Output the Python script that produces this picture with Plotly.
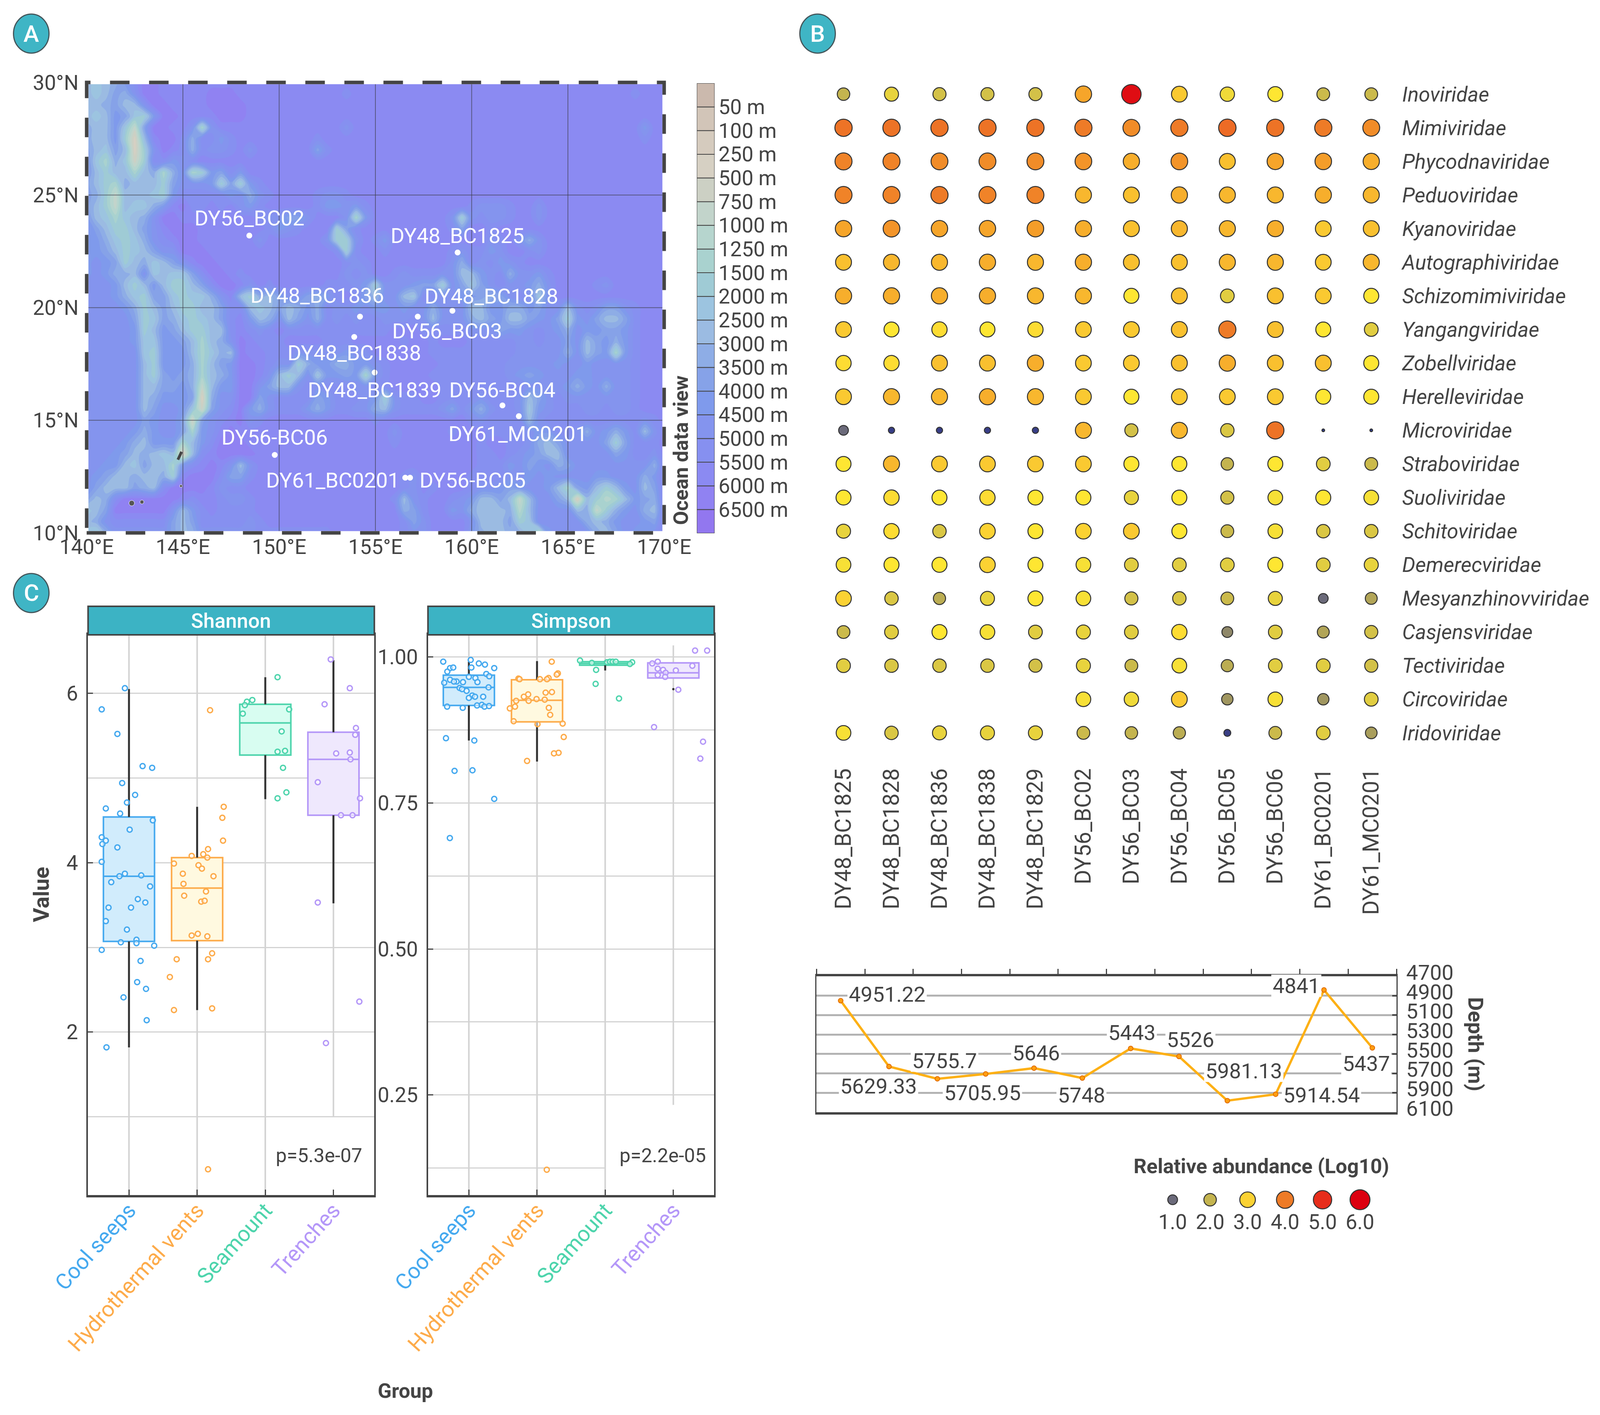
import numpy as np
import plotly.graph_objects as go

# all positions below are read in reference pixels (W x H); the browser screen stops at 4096 wide,
# so the page is drawn that wide and the same fractions are kept
W, H = 4505, 3622
PAGE_W = 4096
XS = PAGE_W / W
TXT = "#444444"
FONT = "Roboto"

# ---- panel A: stations and bathymetry
STATION_NAMES = ["DY56_BC02", "DY48_BC1825", "DY48_BC1836", "DY56_BC03", "DY48_BC1828", "DY48_BC1838",
                 "DY48_BC1839", "DY56-BC04", "DY61_MC0201", "DY56-BC06", "DY61_BC0201", "DY56-BC05"]
STATION_LON = [148.45, 159.27, 154.2, 157.2, 159.0, 153.9, 154.96, 161.6, 162.45, 149.77, 156.55, 156.8]
STATION_LAT = [23.2, 22.45, 19.6, 19.6, 19.86, 18.7, 17.12, 15.66, 15.18, 13.46, 12.45, 12.45]
STATION_SHIFT = [(0, 45), (0, 43), (-121, 54), (83, -37), (110, 37), (0, -41),
                 (0, -45), (0, 39), (-3, -45), (0, 45), (-204, -7), (176, -7)]
DEPTH_LABELS = ["50 m", "100 m", "250 m", "500 m", "750 m", "1000 m", "1250 m", "1500 m", "2000 m", "2500 m",
                "3000 m", "3500 m", "4000 m", "4500 m", "5000 m", "5500 m", "6000 m", "6500 m"]
BAND_COLORS = ["#cbb9ad", "#d2c5b8", "#d5cbbe", "#d6d0c3", "#ccd0c4", "#c2d4cb", "#b6d5ce", "#a9d2cf", "#9fcbd5",
               "#9cc4e0", "#9bbbe2", "#8eade6", "#86a2e8", "#7f9aec", "#8494ee", "#8690f0", "#8b8af2", "#9082f2",
               "#9277ef"]
# depth band per half degree, one row per latitude from 30N down to 10N, 140E to 170E
# 0 is shallower than 50 m, each step is one band of the legend, i is deeper than 6500 m
BATHY_ROWS = [
    "a9abdfhhgg gggggggggg gggggggggg gggggggggg gggggggggg gggggggggg g",
    "a9acbehhgg ggghhhgggg gggggggfgg gggggggggg gggggggggg gggggggfgg g",
    "aabcaaehhg ggghhhhggg gggggggggg gggggggggg gggggggggg gggggggggg g",
    "a9adc98dhh gggghhhggg gggggggggg gggggggggg gggggggggg gggggggggg g",
    "baad95chhg ge7egggggg gggggggegg gggggggggg gggggggggg ggggggggdg g",
    "baad83aghh fbffdfgggg ggggfggggg gggggggggg gggggggggg ggggggggfg g",
    "ca9ca38ehg fbfeefgegg ggggcfgggg gggggggggg gggggggggg gggggggggg g",
    "d97b948ffd efgggggggg gggggggggg gggggggggg gggggggggg gggggggggg g",
    "da8aa7ab7b e78dcfdggg gggggggggg gggggggggg gggggggggg gggggggggg g",
    "ca87baaa8c eeed8c8dfg gggggggggg gggggggggg gggggggggg gggggggggg g",
    "cb85aaa98d fffffdebef ggggfeefgg gggggggggg gggggggggg gggggggggg g",
    "ca85a99bdg hffgfgedfg ggggfddedf gggggggggg feeefggegg gggggggggg g",
    "da979abehh ggggggggfe ecceggge7d gggggggge8 efeefggegg gggggggggg g",
    "eca88acegh hhgggggggf defggg8cfg ggggggggfc ggfggggggg gggggggggg g",
    "ddb989befg hhggggggeg ggggge88eg fdgggggggg ggefgebegg gggggggggg g",
    "ddca89acee hhhggggggg ggggggf8fg gfggggggfe ffdeggfegg gggggggggg g",
    "dedc8ab9ac eghhgggggg gggggggfef ggggggggeb fefdefgggg gggggggggg g",
    "dedbbae9a9 9cfhhgfggg gggggggefe ggfefffeea adefbeedfg gggggggggg g",
    "eeeda8ada8 8acfhhgegf gggggfffed 8eeedcc8ec 9cefeedbeg gggfeggggg g",
    "eeedb98cc9 899bega8ba ceecbdfgfc aeea9ffeed dcbcefe9eg gggggggggg g",
    "eeeedb8aca 88aacffa9a cabdbfeede ddedeebeee aaddbbdcee aefeccefgg g",
    "eeeeec89cb 989acfgdab eacebfefef feeefeaeee bacdaacdec 8decaacfgg g",
    "eeeeed8adc a88aafgfef gfffffffff ffgggfffff eeecddefed beddccdfgg g",
    "eeeeed99dd ca7abehgff fggggfffgg gggfggfggg fffffeefee ceacdbdfgg g",
    "eeeeee98dd da79bahggf ffeeeeedee ggggggffff fffffeeeee beacd7dfgg g",
    "eeeeeea8dd db7acdhhgf ee8bddbbdd efgggggfff ffffeeeeed eedeeeefgg g",
    "eeeeeea8cd cb7abdhhge a8ae9ddcd7 dfggggffff ffffedcdee eddeeeefgg g",
    "eeeeeeaacc db5addhhec aaefefffee ffgggggfff ffffffeeee dbdebeefgg g",
    "eeeeeeabdd dc3beehhce ffffcdfffe d8effggfff fefffeacef eeeeeeefgg g",
    "eeeeeeacee d94cefhdbe fffdbdffee baeffffecf dbeffe9def ffeefeefgg g",
    "eeeeeecdee c4cefghefg gggggggggg fggggggggg feffffaeff ffffffffef g",
    "eeeeedbdee c7deghgggg gggggggggg ggegggggfg ggffffeddf febedbdfae g",
    "eeeedbaddd 7adfhhhggg gggggggggg ggfggggggg gfggffebac eeeec8cfff g",
    "eeedcaba9a 3afghhhhgg gggggggggg gggggggggg gffgfedcaa eeeeecdffe g",
    "eedda9caa7 dfghgeaegg gggggggggg gggggggggg gfffdecdeb ceeeeeeeeb g",
    "edcaabaab8 ghhhfccfgg gggggggggg gggfeggggg ffffeedede eeeddeeebd g",
    "ecaaacbafh hhhgeffggg gggggggggg gggfegfggg feedcdeeda 7cda8adeac g",
    "cabfhhhhhh gfggfeefgg gggggggggg ggfaefggfe daaca5aeec a3a867adcb g",
    "9achhhhhhe adfgffffgg gggggggggg gggbcfggde baaab6aeee eab58bdeba g",
    "abeffffffc acfffffefg gggggggggg gggfcegggg eaaac89eee eebabdeedc g",
    "98beeeeeec abeeeeeeff ffffffgggg gggfeegggg dbaabb96de eeebacedde g",
]
ISLAND_LON = [144.74, 144.82, 144.93]
ISLAND_LAT = [13.25, 13.42, 13.6]
ISLET_LON = [144.9, 142.34, 142.87]
ISLET_LAT = [12.08, 11.32, 11.37]
MAP_LON_TICKS = [140, 145, 150, 155, 160, 165, 170]
MAP_LAT_TICKS = [10, 15, 20, 25, 30]

# ---- panel B: bubbles and depth line
SAMPLES = ["DY48_BC1825", "DY48_BC1828", "DY48_BC1836", "DY48_BC1838", "DY48_BC1829", "DY56_BC02",
           "DY56_BC03", "DY56_BC04", "DY56_BC05", "DY56_BC06", "DY61_BC0201", "DY61_MC0201"]
FAMILIES = ["Inoviridae", "Mimiviridae", "Phycodnaviridae", "Peduoviridae", "Kyanoviridae", "Autographiviridae",
            "Schizomimiviridae", "Yangangviridae", "Zobellviridae", "Herelleviridae", "Microviridae", "Straboviridae",
            "Suoliviridae", "Schitoviridae", "Demerecviridae", "Mesyanzhinovviridae", "Casjensviridae",
            "Tectiviridae", "Circoviridae", "Iridoviridae"]
ABUNDANCE = [
    [2.0, 2.5, 2.2, 2.2, 2.2, 3.5, 5.7, 3.1, 2.6, 2.8, 2.1, 2.1],
    [4.1, 4.1, 4.1, 4.1, 4.1, 4.0, 3.8, 4.0, 4.2, 4.1, 4.0, 3.8],
    [3.9, 3.9, 3.8, 3.8, 3.8, 3.7, 3.4, 3.7, 3.2, 3.5, 3.6, 3.4],
    [3.9, 3.9, 4.0, 3.9, 3.9, 3.3, 3.2, 3.4, 3.3, 3.3, 3.4, 3.3],
    [3.5, 3.7, 3.5, 3.5, 3.6, 3.4, 3.2, 3.3, 3.3, 3.4, 3.1, 3.2],
    [3.2, 3.3, 3.3, 3.4, 3.3, 3.4, 3.2, 3.2, 3.3, 3.3, 3.1, 3.3],
    [3.4, 3.4, 3.4, 3.4, 3.3, 3.3, 2.8, 3.2, 2.4, 3.2, 3.1, 2.8],
    [3.1, 2.8, 2.9, 2.8, 2.9, 3.1, 3.1, 3.2, 4.0, 3.2, 2.8, 2.4],
    [2.9, 2.9, 3.2, 3.2, 3.4, 3.1, 3.1, 3.2, 3.4, 3.2, 3.2, 2.8],
    [3.1, 3.3, 3.3, 3.4, 3.3, 3.1, 2.8, 3.1, 3.1, 3.1, 2.8, 2.8],
    [1.0, 0.5, 0.5, 0.5, 0.5, 3.3, 2.2, 3.3, 2.3, 4.1, 0.1, 0.1],
    [2.8, 3.3, 3.1, 3.1, 3.1, 3.1, 2.8, 2.8, 2.0, 2.8, 2.4, 2.1],
    [2.8, 2.9, 2.8, 2.9, 2.8, 2.8, 2.5, 2.8, 2.2, 2.7, 2.8, 2.7],
    [2.5, 2.9, 2.3, 3.0, 2.8, 3.0, 3.1, 2.8, 2.1, 2.7, 2.3, 2.3],
    [2.7, 2.8, 2.8, 3.0, 2.8, 2.7, 2.4, 2.4, 2.4, 2.8, 2.4, 2.5],
    [3.0, 2.3, 1.9, 2.5, 2.8, 2.7, 2.2, 2.3, 2.1, 2.5, 1.0, 1.8],
    [2.1, 2.4, 2.8, 2.7, 2.4, 2.5, 2.4, 2.9, 1.4, 2.4, 1.8, 2.2],
    [2.4, 2.3, 2.3, 2.3, 2.2, 2.5, 2.1, 2.7, 1.9, 2.4, 2.4, 2.2],
    [None, None, None, None, None, 2.7, 2.6, 3.1, 1.6, 2.7, 1.6, 2.4],
    [2.7, 2.3, 2.5, 2.5, 2.5, 2.1, 2.0, 1.9, 0.6, 2.1, 2.4, 1.7],
]
LEGEND_VALUES = [1.0, 2.0, 3.0, 4.0, 5.0, 6.0]
DEPTHS = [4951.22, 5629.33, 5755.7, 5705.95, 5646, 5748, 5443, 5526, 5981.13, 5914.54, 4841, 5437]
DEPTH_TEXT = ["4951.22", "5629.33", "5755.7", "5705.95", "5646", "5748", "5443", "5526", "5981.13", "5914.54",
              "4841", "5437"]
DEPTH_SHIFT = [(131, 16), (-30, -50), (20, 46), (-9, -48), (6, 39), (-3, -43), (3, 41), (32, 43), (46, 76),
               (129, -2), (-78, 11), (-17, -40)]
DEPTH_TICKS = [4700, 4900, 5100, 5300, 5500, 5700, 5900, 6100]

# ---- panel C: diversity boxes
GROUPS = ["Cool seeps", "Hydrothermal vents", "Seamount", "Trenches"]
GROUP_LINE = ["#45a9ef", "#fdab4a", "#4dd4ac", "#b497f8"]
GROUP_FILL = ["#d1ecfc", "#fff9e0", "#d8fdf1", "#efe8fd"]

SHANNON_Q1 = [3.07, 3.08, 5.27, 4.56]
SHANNON_MED = [3.84, 3.70, 5.65, 5.22]
SHANNON_Q3 = [4.54, 4.06, 5.87, 5.54]
SHANNON_LOW = [1.82, 2.26, 4.75, 3.52]
SHANNON_HIGH = [6.05, 4.66, 6.19, 6.39]
SHANNON_OFFSET = [
    [-.06, -.40, -.17, .20, .34, -.10, .09, -.03, -.34, -.13, .35, .01, -.40, -.34, -.39, -.17, -.40, -.06, -.14,
     .18, -.26, .31, .13, .24, -.30, .03, -.34, -.03, -.12, .11, .11, .37, -.40, .17, .12, .25, -.08, .26, -.33],
    [.39, .37, .38, .16, -.08, .09, .15, -.34, .02, .07, -.21, .24, -.20, .13, -.19, .06, .11, -.08, .01, .15,
     .22, -.30, .16, -.40, -.34, .22, .19, .16],
    [.18, -.19, -.27, -.30, -.33, .35, .24, .18, .29, .26, .31, .18],
    [-.04, .24, -.13, .33, .32, .04, .24, .25, -.23, .39, .11, .28, -.23, .38, -.11],
]
SHANNON_POINTS = [
    [6.06, 5.81, 5.52, 5.14, 5.12, 4.94, 4.80, 4.71, 4.64, 4.58, 4.50, 4.39, 4.30, 4.26, 4.22, 4.18, 4.01, 3.87, 3.84,
     3.85, 3.77, 3.72, 3.57, 3.53, 3.47, 3.47, 3.31, 3.21, 3.06, 3.09, 3.05, 3.02, 2.97, 2.84, 2.59, 2.51, 2.41, 2.14,
     1.82],
    [4.66, 4.53, 4.26, 4.16, 4.08, 4.10, 4.06, 3.99, 3.97, 3.93, 3.87, 3.84, 3.75, 3.66, 3.61, 3.54, 3.55, 3.14, 3.16,
     3.13, 2.93, 2.86, 2.86, 2.65, 2.26, 2.28, 5.80, 0.38],
    [6.19, 5.92, 5.90, 5.86, 5.76, 5.81, 5.55, 5.31, 5.32, 5.12, 4.83, 4.76],
    [6.40, 6.06, 5.87, 5.59, 5.51, 5.29, 5.30, 5.22, 4.95, 4.76, 4.56, 4.56, 3.53, 2.36, 1.87],
]

SIMPSON_Q1 = [.917, .889, .986, .964]
SIMPSON_MED = [.948, .926, .989, .973]
SIMPSON_Q3 = [.969, .961, .992, .990]
SIMPSON_LOW = [.857, .821, .977, .964]
SIMPSON_HIGH = [.992, .993, .994, .990]
SIMPSON_STUB = .945
SIMPSON_OFFSET = [
    [-.376, .027, .146, .236, .372, -.276, -.229, .037, -.316, .256, .299, 0, .096, -.276, -.18, -.219, -.086, .126,
     -.362, .289, -.136, -.1, -.033, .05, .09, 0, .21, -.319, -.09, .12, .19, .229, .296, -.336, .08, -.21, .053,
     .372, -.279],
    [.216, .306, .289, -.273, -.256, .043, .17, .146, .219, .126, -.13, -.193, -.306, -.123, -.007, .113, -.323, -.399,
     .173, .193, -.343, .007, .376, .392, .316, .249, -.146, .143],
    [-.369, -.196, .027, .07, .11, .156, .396, .362, -.133, -.14, .203],
    [.319, .496, -.309, -.229, -.229, -.15, -.113, .037, .279, -.229, -.12, .073, -.283, .436, .396],
]
SIMPSON_POINTS = [
    [.992, .995, .989, .987, .981, .981, .982, .982, .975, .971, .967, .966, .964, .961, .958, .958, .957, .957, .956,
     .948, .947, .945, .942, .934, .932, .930, .932, .915, .913, .917, .918, .915, .916, .861, .857, .805, .806, .757,
     .690],
    [.992, .972, .970, .963, .962, .962, .964, .962, .940, .939, .936, .932, .925, .925, .928, .927, .915, .912, .913,
     .901, .890, .885, .886, .863, .836, .835, .822, .122],
    [.994, .990, .991, .992, .992, .992, .991, .988, .978, .954, .929],
    [1.011, 1.011, .989, .992, .980, .978, .973, .977, .985, .969, .966, .944, .880, .855, .826],
]


def dom_x(left, right):
    return [left / W, right / W]


def dom_y(top, bottom):
    return [1 - bottom / H, 1 - top / H]


def bubble_size(values):
    return np.interp(values, [0.1, 0.5, 1, 2, 3, 4, 5, 6], [7, 16, 25, 32, 40, 44, 47, 51])


ABUNDANCE_SCALE = [[0, "#2b3a8f"], [0.6 / 6, "#3a3f85"], [1 / 6, "#6b6a7a"], [2 / 6, "#c4b44f"], [2.8 / 6, "#fee632"],
                   [3 / 6, "#fbd233"], [3.5 / 6, "#f6a52a"], [4 / 6, "#ee7b27"], [5 / 6, "#e72d1b"], [1, "#dc0010"]]

fig = go.Figure()

# Map: bathymetry as filled contours
bathy = [[18 - int(c, 36) for c in row.replace(" ", "")] for row in BATHY_ROWS]
fig.add_trace(go.Contour(
    x=[140 + 0.5 * i for i in range(61)], y=[30 - 0.5 * i for i in range(41)], z=bathy,
    contours=dict(start=0.5, end=17.5, size=1, coloring="fill"),
    colorscale=[[k / 18, BAND_COLORS[18 - k]] for k in range(19)],
    line=dict(width=0, smoothing=1.0), showscale=False, xaxis="x", yaxis="y", hoverinfo="skip"))
fig.add_trace(go.Scatter(x=ISLAND_LON, y=ISLAND_LAT, mode="lines", line=dict(color="#444444", width=7),
                         xaxis="x", yaxis="y", hoverinfo="skip"))
fig.add_trace(go.Scatter(x=ISLET_LON, y=ISLET_LAT, mode="markers",
                         marker=dict(color="#555555", size=[7, 14, 10], opacity=1),
                         xaxis="x", yaxis="y", hoverinfo="skip"))
fig.add_trace(go.Scatter(x=STATION_LON, y=STATION_LAT, mode="markers", marker=dict(color="white", size=15),
                         xaxis="x", yaxis="y", text=STATION_NAMES))

# Depth key next to the map
fig.add_trace(go.Bar(x=[0] * 19, y=[1] * 19, base=list(range(19)), width=1, marker=dict(
    color=BAND_COLORS[::-1], line=dict(color="#444444", width=2)), xaxis="x2", yaxis="y2", hoverinfo="skip"))

# Bubbles
bx, by, bv = [], [], []
for family, row in zip(FAMILIES, ABUNDANCE):
    for sample, value in zip(SAMPLES, row):
        if value is not None:
            bx.append(sample)
            by.append(family)
            bv.append(value)
fig.add_trace(go.Scatter(x=bx, y=by, mode="markers", xaxis="x3", yaxis="y3", marker=dict(
    size=bubble_size(bv), color=bv, cmin=0, cmax=6, colorscale=ABUNDANCE_SCALE, opacity=1,
    line=dict(color="#333333", width=2.5))))

# Depth line
fig.add_trace(go.Scatter(x=list(range(12)), y=DEPTHS, mode="lines+markers", xaxis="x4", yaxis="y4",
                         line=dict(color="#fdb015", width=6),
                         marker=dict(color="#ff9f10", size=12, line=dict(color="#e06a00", width=2))))

# Abundance key
fig.add_trace(go.Scatter(x=[f"{v:.1f}" for v in LEGEND_VALUES], y=[0] * 6, mode="markers", xaxis="x5", yaxis="y5",
                         cliponaxis=False,
                         marker=dict(size=bubble_size(LEGEND_VALUES), color=LEGEND_VALUES, cmin=0, cmax=6, opacity=1,
                                     colorscale=ABUNDANCE_SCALE, line=dict(color="#333333", width=2.5))))


def add_boxes(q1, med, q3, low, high, offsets, points, xa, ya):
    for i in range(4):
        fig.add_trace(go.Scatter(x=[i, i, None, i, i], y=[q3[i], high[i], None, q1[i], low[i]], mode="lines",
                                 line=dict(color="#333333", width=5), xaxis=xa, yaxis=ya))
        fig.add_trace(go.Box(x=[i], q1=[q1[i]], median=[med[i]], q3=[q3[i]], lowerfence=[q1[i]], upperfence=[q3[i]],
                             width=0.75, whiskerwidth=0, boxpoints=False, fillcolor=GROUP_FILL[i],
                             line=dict(color=GROUP_LINE[i], width=4), xaxis=xa, yaxis=ya))
    for i in range(4):
        fig.add_trace(go.Scatter(x=[i + o for o in offsets[i]], y=points[i], mode="markers", xaxis=xa, yaxis=ya,
                                 marker=dict(size=13, color="rgba(255,255,255,0.55)",
                                             line=dict(color=GROUP_LINE[i], width=3.5))))


add_boxes(SHANNON_Q1, SHANNON_MED, SHANNON_Q3, SHANNON_LOW, SHANNON_HIGH, SHANNON_OFFSET, SHANNON_POINTS, "x6", "y6")
add_boxes(SIMPSON_Q1, SIMPSON_MED, SIMPSON_Q3, SIMPSON_LOW, SIMPSON_HIGH, SIMPSON_OFFSET, SIMPSON_POINTS, "x7", "y7")
fig.add_trace(go.Scatter(x=[3], y=[SIMPSON_STUB], mode="markers", marker=dict(color="#333333", size=6),
                         xaxis="x7", yaxis="y7"))

annotations = []
for name, lon, lat, (dx, dy) in zip(STATION_NAMES, STATION_LON, STATION_LAT, STATION_SHIFT):
    annotations.append(dict(x=lon, y=lat, xref="x", yref="y", text=name, showarrow=False, xshift=dx * XS, yshift=dy,
                            font=dict(color="white", size=54)))
for i, (label, depth, (dx, dy)) in enumerate(zip(DEPTH_TEXT, DEPTHS, DEPTH_SHIFT)):
    annotations.append(dict(x=i, y=depth, xref="x4", yref="y4", text=label, showarrow=False, xshift=dx * XS, yshift=dy,
                            bgcolor="white", borderpad=3, height=50, font=dict(size=54, color=TXT)))


def paper_text(text, x, y, size=53, color=TXT, angle=0, weight=400):
    annotations.append(dict(x=x / W, y=1 - y / H, xref="paper", yref="paper", text=text, showarrow=False,
                            textangle=angle, font=dict(size=size, color=color, weight=weight),
                            xanchor="center", yanchor="middle"))


paper_text("Ocean data view", 1918, 1152, size=52, angle=-90, weight=700)
paper_text("Depth (m)", 4155, 2673, size=54, angle=90, weight=700)
paper_text("Relative abundance (Log10)", 3551, 2985, size=52, weight=700)
paper_text("Value", 117, 2289, size=56, angle=-90, weight=700)
paper_text("Group", 1141, 3560, size=52, weight=700)
paper_text("p=5.3e-07", 898, 2958, size=50)
paper_text("p=2.2e-05", 1866, 2958, size=50)
paper_text("Shannon", 651, 1589, size=52, color="white", weight=500)
paper_text("Simpson", 1608, 1589, size=52, color="white", weight=500)

shapes = []
for lon in MAP_LON_TICKS[1:-1]:
    shapes.append(dict(type="line", xref="x", yref="y", x0=lon, x1=lon, y0=10, y1=30,
                       line=dict(color="rgba(60,60,70,0.65)", width=2)))
for lat in MAP_LAT_TICKS[1:-1]:
    shapes.append(dict(type="line", xref="x", yref="y", x0=140, x1=170, y0=lat, y1=lat,
                       line=dict(color="rgba(60,60,70,0.65)", width=2)))
# neatline of the map
frame = dict(type="rect", xref="paper", yref="paper", x0=244 / W, x1=1870 / W, y0=1 - 1364 / H, y1=1 - 211 / H)
shapes.append({**frame, "line": dict(color="white", width=9)})
shapes.append({**frame, "line": dict(color="#444444", width=9, dash="50px,50px")})

# panel badges
for letter, cx, cy in [("A", 88, 86), ("B", 2302, 86), ("C", 88, 1518)]:
    shapes.append(dict(type="circle", xref="paper", yref="paper", x0=(cx - 50) / W, x1=(cx + 50) / W,
                       y0=1 - (cy + 50) / H, y1=1 - (cy - 50) / H, fillcolor="#3fb5c5",
                       line=dict(color="#44555a", width=3)))
    paper_text(letter, cx, cy, size=60, color="white", weight=500)

# facet strips
for left, right in [(248, 1054), (1205, 2011)]:
    shapes.append(dict(type="rect", xref="paper", yref="paper", x0=left / W, x1=right / W, y0=1 - 1625 / H,
                       y1=1 - 1552 / H, fillcolor="#3cb3c4", line=dict(color=TXT, width=4)))

# vertical grid, some lines stop short in the source
GRID = "#d3d3d3"
for i, (y0, y1) in enumerate([(0.076, 6.69), (0.076, 6.69), (0.076, 6.69), (1.0, 6.69)]):
    shapes.append(dict(type="line", xref="x6", yref="y6", x0=i, x1=i, y0=y0, y1=y1, layer="below",
                       line=dict(color=GRID, width=4)))
for i, (y0, y1) in enumerate([(0.079, 1.038), (0.079, 1.038), (0.079, 1.038), (0.233, 1.02)]):
    shapes.append(dict(type="line", xref="x7", yref="y7", x0=i, x1=i, y0=y0, y1=y1, layer="below",
                       line=dict(color=GRID, width=4)))
shapes.append(dict(type="line", xref="x7", yref="y7", x0=-0.604, x1=2, y0=0.125, y1=0.125, layer="below",
                   line=dict(color=GRID, width=3)))

colored_groups = [f'<span style="color:{c}">{g}</span>' for g, c in zip(GROUPS, GROUP_LINE)]
tick_font = dict(size=53, color=TXT)

box_x = dict(range=[-0.6, 3.6], tickmode="array", tickvals=[0, 1, 2, 3], ticktext=colored_groups, tickangle=-48,
             tickfont=dict(size=56), showgrid=False, zeroline=False, showline=True, mirror=True, linecolor=TXT,
             linewidth=6, ticks="inside", ticklen=14, tickwidth=3, tickcolor=TXT, ticklabelstandoff=-22)
box_y = dict(showgrid=True, gridcolor=GRID, gridwidth=3, zeroline=False, showline=True, mirror=True, linecolor=TXT,
             linewidth=4, ticks="inside", ticklen=13, tickwidth=3, tickcolor=TXT, tickfont=tick_font,
             ticklabelstandoff=11)

fig.update_layout(
    width=PAGE_W, height=H, autosize=False, margin=dict(l=0, r=0, t=0, b=0, pad=0), paper_bgcolor="white",
    plot_bgcolor="white",
    showlegend=False, barmode="overlay", font=dict(family=FONT, color=TXT), annotations=annotations, shapes=shapes,
    xaxis=dict(domain=dom_x(244, 1870), range=[140, 170], tickmode="array", tickvals=MAP_LON_TICKS,
               ticktext=[f"{v}°E" for v in MAP_LON_TICKS], tickfont=tick_font, showgrid=False,
               zeroline=False, ticks="", anchor="y"),
    yaxis=dict(domain=dom_y(211, 1364), range=[10, 30], tickmode="array", tickvals=MAP_LAT_TICKS,
               ticktext=[f"{v}°N" for v in MAP_LAT_TICKS], tickfont=tick_font, showgrid=False,
               zeroline=False, ticks="outside", ticklen=9, tickcolor="rgba(0,0,0,0)", anchor="x"),
    xaxis2=dict(domain=dom_x(1962, 2012), range=[-0.5, 0.5], showticklabels=False, showgrid=False, zeroline=False,
                anchor="y2", ticks=""),
    yaxis2=dict(domain=dom_y(213, 1365), range=[0, 19], side="right", anchor="x2", tickmode="array",
                tickvals=list(range(18, 0, -1)), ticktext=DEPTH_LABELS, tickfont=tick_font, showgrid=False,
                zeroline=False, ticks="", ticklabelstandoff=9),
    xaxis3=dict(domain=dom_x(2307.5, 3928.5), type="category", categoryorder="array", categoryarray=SAMPLES,
                range=[-0.5, 11.5], tickangle=-90, tickfont=dict(size=57, color=TXT), showgrid=False, zeroline=False,
                showline=False, ticks="outside", ticklen=24, tickcolor="rgba(0,0,0,0)", anchor="y3"),
    yaxis3=dict(domain=dom_y(198, 1919), type="category", categoryorder="array", categoryarray=FAMILIES,
                range=[19.5, -0.5], side="right", tickfont=dict(size=53, color=TXT, style="italic"), showgrid=False,
                zeroline=False, showline=False, ticks="outside", ticklen=6, tickcolor="rgba(0,0,0,0)", anchor="x3"),
    xaxis4=dict(domain=dom_x(2299, 3932), range=[-0.5, 11.5], side="top", tickmode="array",
                tickvals=[k - 0.5 for k in range(13)], showticklabels=False, ticks="outside", ticklen=13, tickwidth=3,
                tickcolor=TXT, showgrid=False, zeroline=False, showline=True, mirror=True, linecolor=TXT, linewidth=6,
                anchor="y4"),
    yaxis4=dict(domain=dom_y(2499, 2847), range=[6100, 4700], side="right", tickmode="array", tickvals=DEPTH_TICKS,
                tickfont=dict(size=54, color=TXT), gridcolor="#b3b3b3", gridwidth=5, zeroline=False, showline=True,
                mirror=True, linecolor=TXT, linewidth=3, ticks="inside", ticklen=11, tickwidth=4, tickcolor=TXT,
                anchor="x4", ticklabelstandoff=11, ticklabelshift=10),
    xaxis5=dict(domain=dom_x(3249, 3882), type="category", categoryorder="array",
                categoryarray=[f"{v:.1f}" for v in LEGEND_VALUES], range=[-0.5, 5.5], tickfont=tick_font,
                showgrid=False, zeroline=False, showline=False, ticks="", anchor="y5"),
    yaxis5=dict(domain=dom_y(3050, 3092), range=[-1, 1], visible=False, anchor="x5"),
    xaxis6=dict(domain=dom_x(248, 1054), anchor="y6", **box_x),
    yaxis6=dict(domain=dom_y(1625, 3059), range=[0.076, 6.69], tickmode="array", tickvals=[2, 4, 6], anchor="x6",
                minor=dict(tickmode="array", tickvals=[1, 3, 5], showgrid=True, gridcolor=GRID, gridwidth=3, ticks=""),
                **box_y),
    xaxis7=dict(domain=dom_x(1205, 2011), anchor="y7", **box_x),
    yaxis7=dict(domain=dom_y(1625, 3059), range=[0.0786, 1.038], tickmode="array", tickvals=[0.25, 0.5, 0.75, 1.0],
                ticktext=["0.25", "0.50", "0.75", "1.00"], anchor="x7",
                minor=dict(tickmode="array", tickvals=[0.375, 0.625, 0.875], showgrid=True, gridcolor=GRID,
                           gridwidth=3, ticks=""),
                **box_y),
)
fig.update_xaxes(automargin=False)
fig.update_yaxes(automargin=False)

fig.write_html("out.html", config={"displayModeBar": False}, post_script="document.body.style.margin='0';")
